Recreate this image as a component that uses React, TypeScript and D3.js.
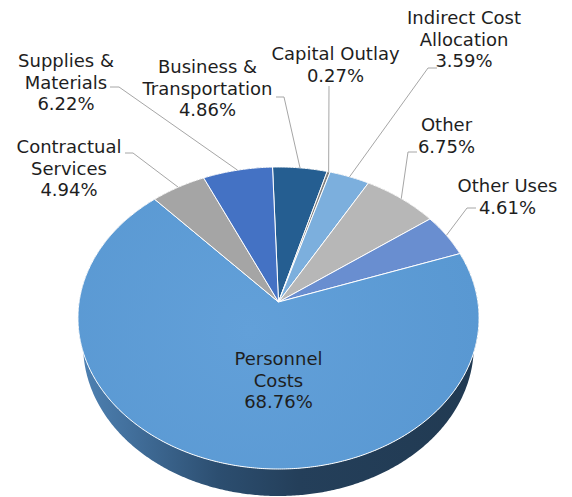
import React from "react";
import * as d3 from "d3";

// ---- data ----
const categories = [
  "Business & Transportation",
  "Capital Outlay",
  "Indirect Cost Allocation",
  "Other",
  "Other Uses",
  "Personnel Costs",
  "Contractual Services",
  "Supplies & Materials",
];
const labelLines = [
  ["Business &", "Transportation"],
  ["Capital Outlay"],
  ["Indirect Cost", "Allocation"],
  ["Other"],
  ["Other Uses"],
  ["Personnel", "Costs"],
  ["Contractual", "Services"],
  ["Supplies &", "Materials"],
];
const shares = [4.86, 0.27, 3.59, 6.75, 4.61, 68.76, 4.94, 6.22];
const colors = ["#255E91", "#7F7F7F", "#7CAFDD", "#B7B7B7", "#698ED0", "#5B9BD5", "#A5A5A5", "#4472C4"];

// ---- label layout (centre x, first baseline, leader elbow points) ----
const labelLayout: { x: number; y: number; leader: [number, number][] }[] = [
  { x: 207.5, y: 73, leader: [[276, 97], [284, 97]] },
  { x: 335.5, y: 60, leader: [[329, 86]] },
  { x: 464, y: 24, leader: [[437, 68], [428, 68]] },
  { x: 446.5, y: 131, leader: [[417, 152], [408, 152]] },
  { x: 507.5, y: 192, leader: [[476, 208], [467, 208]] },
  { x: 278.5, y: 365, leader: [] },
  { x: 69, y: 153, leader: [[125, 153], [133, 153]] },
  { x: 66, y: 67, leader: [[110, 87], [119, 87]] },
];

// ---- 3D perspective projection of the disc ----
const W = 572, H = 497;
const cx = 278.5, cy = 302;
const f = 1247.5, D = 6.256;
const tilt = Math.asin(0.7488);
const sA = Math.sin(tilt), cA = Math.cos(tilt);
const depth = 0.2216;
const startDeg = -1.9;

function project(a: number, r: number, w: number): [number, number] {
  const u = r * Math.sin(a);
  const v = -r * Math.cos(a);
  const Y = v * sA + w * cA;
  const Z = D - v * cA + w * sA;
  return [cx + (f * u) / Z, cy + (f * Y) / Z];
}

function sample(a0: number, a1: number, w: number): [number, number][] {
  const n = Math.max(2, Math.ceil(((a1 - a0) * 180) / Math.PI) * 2);
  return d3.range(n + 1).map((i) => project(a0 + ((a1 - a0) * i) / n, 1, w));
}

const line = d3.line<[number, number]>();

export default function App() {
  const pie = d3
    .pie<number>()
    .sort(null)
    .startAngle((startDeg * Math.PI) / 180)
    .endAngle((startDeg * Math.PI) / 180 + 2 * Math.PI);
  const arcs = pie(shares);

  const walls = arcs
    .map((a, i) => {
      const top = sample(a.startAngle, a.endAngle, 0);
      const bot = sample(a.startAngle, a.endAngle, depth).reverse();
      const mid = (a.startAngle + a.endAngle) / 2;
      return { i, d: line([...top, ...bot])! + "Z", z: -Math.cos(mid) };
    })
    .sort((p, q) => p.z - q.z);

  const apex = project(0, 0, 0);
  const tops = arcs.map((a, i) => {
    const pts = sample(a.startAngle, a.endAngle, 0);
    return { i, d: line([apex, ...pts])! + "Z" };
  });

  const fontFamily = "'DejaVu Sans', Verdana, sans-serif";
  const lh = 21.5;

  return (
    <svg width={W} height={H} style={{ position: "absolute", left: 0, top: 0, display: "block", background: "#fff" }}>
      <defs>
        <linearGradient id="wallGrad" gradientUnits="userSpaceOnUse" x1={78} y1={0} x2={479} y2={0}>
          <stop offset="0" stopColor="#4f82b3" />
          <stop offset="0.12" stopColor="#43719e" />
          <stop offset="0.35" stopColor="#2c4e70" />
          <stop offset="0.55" stopColor="#243f5a" />
          <stop offset="1" stopColor="#213a52" />
        </linearGradient>
        <radialGradient id="topGrad" gradientUnits="userSpaceOnUse" cx={250} cy={330} r={230}>
          <stop offset="0" stopColor="#62a0d9" />
          <stop offset="1" stopColor="#5998d2" />
        </radialGradient>
      </defs>
      {walls.map((w) => (
        <path
          key={"w" + w.i}
          d={w.d}
          fill={w.i === 5 ? "url(#wallGrad)" : d3.color(colors[w.i])!.darker(1.2).formatHex()}
          stroke="none"
        />
      ))}
      {tops.map((t) => (
        <path
          key={"t" + t.i}
          d={t.d}
          fill={t.i === 5 ? "url(#topGrad)" : colors[t.i]}
          stroke="#ffffff"
          strokeWidth={1}
          strokeLinejoin="round"
        />
      ))}
      {arcs.map((a, i) => {
        const L = labelLayout[i];
        if (!L.leader.length) return null;
        const mid = (a.startAngle + a.endAngle) / 2;
        const anchor = project(mid, 1, 0);
        return (
          <path
            key={"l" + i}
            d={line([...L.leader, anchor])!}
            fill="none"
            stroke="#a6a6a6"
            strokeWidth={1}
          />
        );
      })}
      {arcs.map((a, i) => {
        const L = labelLayout[i];
        const lines = [...labelLines[i], shares[i].toFixed(2) + "%"];
        return (
          <text
            key={"t" + i}
            x={L.x}
            y={L.y}
            textAnchor="middle"
            fontFamily={fontFamily}
            fontSize={18}
            fill="#1e1e1e"
          >
            {lines.map((s, k) => (
              <tspan key={k} x={L.x} y={L.y + k * lh}>
                {s}
              </tspan>
            ))}
          </text>
        );
      })}
    </svg>
  );
}
